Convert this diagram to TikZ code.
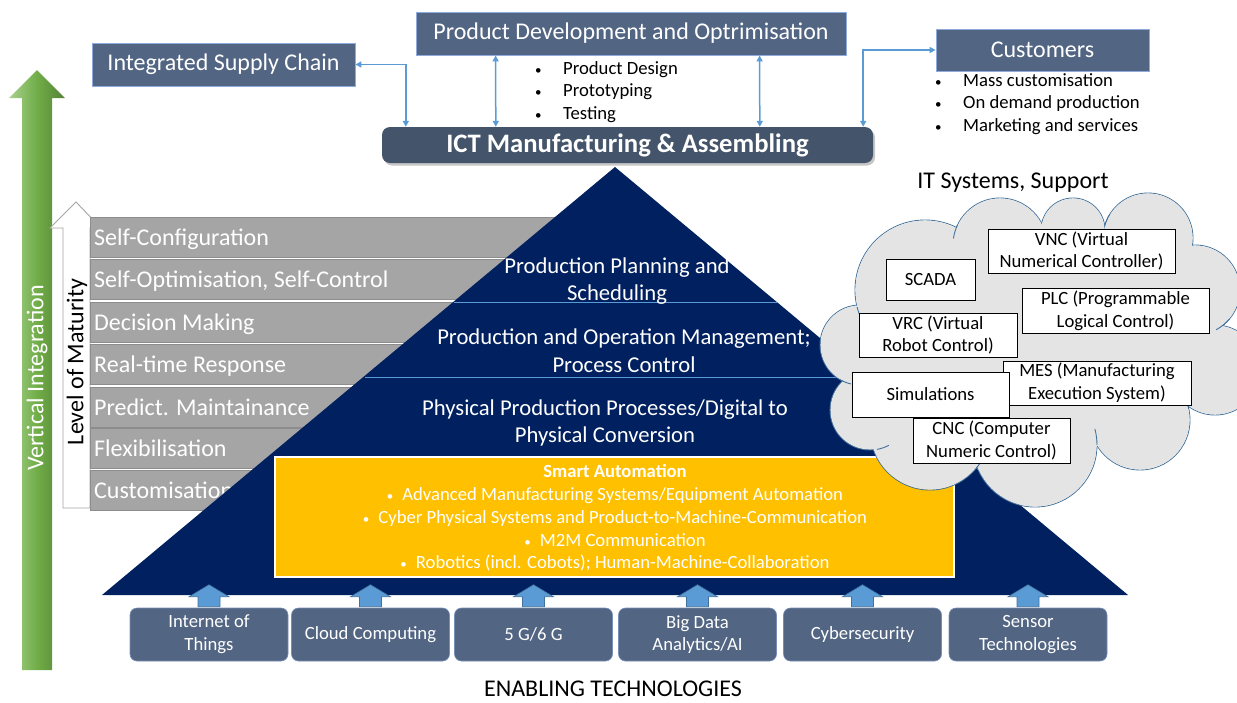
\documentclass[tikz,border=0pt]{standalone}
\usepackage{fontspec}
\setmainfont{Carlito}
\usetikzlibrary{arrows.meta,calc,shadows}
\definecolor{navy}{HTML}{002060}
\definecolor{slate}{HTML}{44546A}
\definecolor{boxblue}{HTML}{526583}
\definecolor{boxedge}{HTML}{8FAADC}
\definecolor{linkblue}{HTML}{5B9BD5}
\definecolor{linkedge}{HTML}{41719C}
\definecolor{bargray}{HTML}{A5A5A5}
\definecolor{baredge}{HTML}{8C8C8C}
\definecolor{gold}{HTML}{FFC000}
\definecolor{cloudfill}{HTML}{E4E4E4}
\definecolor{cloudedge}{HTML}{41719C}
\definecolor{glight}{HTML}{A9D18E}
\definecolor{gmid}{HTML}{70AD47}
\definecolor{gdark}{HTML}{548235}
\newcommand{\smb}{{\fontsize{13}{13}\selectfont •}}
\begin{document}
\begin{tikzpicture}[x=1pt,y=-1pt,
  f24/.style={font=\fontsize{24}{28.8}\selectfont},
  f19/.style={font=\fontsize{18.67}{22.8}\selectfont},
  f23/.style={font=\fontsize{22.67}{27.5}\selectfont},
  topbox/.style={draw=boxedge, line width=0.8pt, fill=boxblue, text=white, inner sep=0pt, f24},
  techbox/.style={draw=boxedge!60!boxblue, line width=0.6pt, fill=boxblue, rounded corners=7pt, text=white, inner sep=0pt, minimum width=158pt, minimum height=53pt, align=center, f19},
  itbox/.style={draw=black, line width=0.8pt, fill=white, inner sep=0pt, align=center, f19},
  conn/.style={draw=linkblue, line width=1.5pt, {Triangle[length=6pt,width=6pt]}-{Triangle[length=6pt,width=6pt]}},
  bar/.style={draw=baredge, line width=0.8pt, fill=bargray, inner sep=0pt, minimum width=470pt, minimum height=40pt, anchor=north west},
  bartext/.style={text=white, f24, anchor=base west, inner sep=0pt},
  uparrow/.style={fill=linkblue, draw=linkedge, line width=0.6pt},
  pyrtext/.style={text=white, f23, align=center, inner sep=0pt},
  divider/.style={draw=linkblue, line width=0.8pt},
  cloudline/.style={draw=cloudedge, line width=0.9pt},
]
\useasboundingbox (0,0) rectangle (1237,702);
\clip (0,0) rectangle (1237,702);

% vertical integration arrow
\shade[left color=glight, right color=gdark, middle color=gmid]
  (22,670) -- (22,98) -- (9,98) -- (37,70) -- (65,98) -- (52,98) -- (52,670) -- cycle;
\node[text=white, f24, rotate=90, inner sep=0pt] (vi) at (37,378) {Vertical Integration};

% level of maturity arrow
\draw[fill=white, draw=bargray, line width=0.9pt]
  (63,508) -- (63,228) -- (50,228) -- (76,202) -- (101,228) -- (90,228) -- (90,508) -- cycle;
\node[text=black, f24, rotate=90, inner sep=0pt] (lom) at (77,362) {Level of Maturity};

% maturity bars
\foreach \yy/\nm/\txt in {216/b1/Self-Configuration, 258/b2/{Self-Optimisation, Self-Control}, 301/b3/Decision Making, 343/b4/Real-time Response, 386/b5/Predict. Maintainance, 427/b6/Flexibilisation, 469/b7/Customisation}{
  \node[bar] (\nm) at (90,\yy+1) {};
  \node[bartext] (\nm t) at ($(\nm.west)+(4,8)$) {\txt};
}

% pyramid
\fill[navy] (615,167) -- (1128,595) -- (102,595) -- cycle;
\draw[divider] (454,302) -- (777,302);
\draw[divider] (365,377) -- (867,377);
\node[pyrtext] (p1) at (617,281) {Production Planning and\\Scheduling};
\node[pyrtext] (p2) at (624,350.5) {Production and Operation Management;\\Process Control};
\node[pyrtext] (p3) at (605,423) {Physical Production Processes/Digital to\\Physical Conversion};

% smart automation
\node[fill=gold, draw=white, line width=1.8pt, minimum width=679pt, minimum height=120pt, inner sep=0pt] (sa) at (614.5,517) {};
\node[text=white, f19, align=center, inner sep=0pt] (sat) at (615,518) {\textbf{Smart Automation}\\
  \smb\hspace{9pt}Advanced Manufacturing Systems/Equipment Automation\\
  \smb\hspace{9pt}Cyber Physical Systems and Product-to-Machine-Communication\\
  \smb\hspace{9pt}M2M Communication\\
  \smb\hspace{9pt}Robotics (incl. Cobots); Human-Machine-Collaboration};

% cloud
\foreach \cx/\cy/\r in {925/290/70, 1000/245/47, 1073/230/32, 1148/238/45, 1195/290/45, 1215/370/45, 1140/420/50, 1035/445/62, 930/430/60, 870/410/40, 860/345/40}{
  \draw[cloudline] (\cx,\cy) circle[radius=\r pt];
}
\foreach \cx/\cy/\r in {925/290/70, 1000/245/47, 1073/230/32, 1148/238/45, 1195/290/45, 1215/370/45, 1140/420/50, 1035/445/62, 930/430/60, 870/410/40, 860/345/40}{
  \fill[cloudfill] (\cx,\cy) circle[radius=\r pt-0.45pt];
}
\fill[cloudfill] (1030,345) ellipse[x radius=170pt, y radius=110pt];
\foreach \cx/\cy/\r/\aa/\ab in {1000/245/47/205/188, 1148/238/45/212/195, 1195/290/45/40/62, 1140/420/50/-13/-30, 1035/445/62/0/-15, 930/430/60/40/25, 870/410/40/80/62, 860/345/40/120/103, 925/290/70/166/153}{
  \draw[cloudline] ($(\cx,\cy)+(\aa:\r)$) arc[start angle=\aa, end angle=\ab, radius=\r];
}
\node[f24, inner sep=0pt] (its) at (1013,183) {IT Systems, Support};

\node[itbox, minimum width=187pt, minimum height=44pt] (vnc) at (1081.5,251) {VNC (Virtual\\Numerical Controller)};
\node[itbox, minimum width=89pt, minimum height=41pt] (scada) at (930.5,279.5) {SCADA};
\node[itbox, minimum width=187pt, minimum height=45pt] (plc) at (1115.5,310.5) {PLC (Programmable\\Logical Control)};
\node[itbox, minimum width=158pt, minimum height=44pt] (vrc) at (938,335) {VRC (Virtual\\Robot Control)};
\node[itbox, minimum width=188pt, minimum height=44pt] (mes) at (1097,383) {MES (Manufacturing\\Execution System)};
\node[itbox, minimum width=157pt, minimum height=45pt] (sim) at (930.5,394.5) {Simulations};
\node[itbox, minimum width=157pt, minimum height=45pt] (cnc) at (991.5,440.5) {CNC (Computer\\Numeric Control)};

% enabling technologies
\node[techbox] (t1) at (209,634.5) {Internet of\\Things};
\node[techbox] (t2) at (370.5,634.5) {Cloud Computing};
\node[techbox] (t3) at (533.5,634.5) {5 G/6 G};
\node[techbox] (t4) at (697.5,634.5) {Big Data\\Analytics/AI};
\node[techbox] (t5) at (862.5,634.5) {Cybersecurity};
\node[techbox] (t6) at (1028,634.5) {Sensor\\Technologies};
\foreach \n in {t1,t2,t3,t4,t5,t6}{
  \draw[uparrow] ($(\n.north)+(-11,-1)$) -- ++(0,-10) -- ++(-9,0) -- ++(20,-12) -- ++(20,12) -- ++(-9,0) -- ++(0,10) -- cycle;
}
\node[f24, inner sep=0pt] (enab) at (613,689) {ENABLING TECHNOLOGIES};

% top boxes
\node[topbox, minimum width=263pt, minimum height=43pt] (isc) at (223.5,64.5) {Integrated Supply Chain};
\node[topbox, minimum width=430pt, minimum height=43pt] (pdo) at (631,33.5) {Product Development and Optrimisation};
\node[topbox, minimum width=213pt, minimum height=42pt] (cust) at (1042.5,50) {Customers};
\node[fill=slate, rounded corners=8pt, minimum width=491pt, minimum height=36pt, inner sep=0pt, text=white,
  font=\fontsize{26.67}{32}\selectfont\bfseries,
  drop shadow={shadow xshift=2pt, shadow yshift=-2.5pt, opacity=0.45}] (ict) at (627.5,145) {ICT Manufacturing \& Assembling};

\node[f19, align=left, anchor=west, inner sep=0pt] (pdob) at (535,92)
  {\makebox[28pt][l]{\smb}Product Design\\\makebox[28pt][l]{\smb}Prototyping\\\makebox[28pt][l]{\smb}Testing};
\node[f19, align=left, anchor=west, inner sep=0pt] (custb) at (935,104)
  {\makebox[28pt][l]{\smb}Mass customisation\\\makebox[28pt][l]{\smb}On demand production\\\makebox[28pt][l]{\smb}Marketing and services};

% connectors
\draw[conn] (isc.east) -| ($(ict.north west)+(24,0)$);
\draw[conn] ($(pdo.south west)+(80,0)$) -- ($(ict.north west)+(114,0)$);
\draw[conn] ($(pdo.south west)+(344,0)$) -- ($(ict.north west)+(378,0)$);
\draw[conn] (cust.west) -| ($(ict.north east)+(-10,0)$);
\end{tikzpicture}
\end{document}
